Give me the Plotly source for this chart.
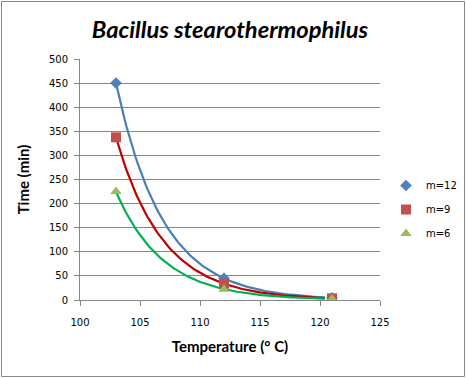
import numpy as np
import plotly.graph_objects as go

temps = [103, 112, 121]
series_names = ["m=12", "m=9", "m=6"]
m12 = [450, 45, 4.5]
m9 = [337.5, 33.75, 3.4]
m6 = [225, 22.5, 2.3]
x_ticks = [100, 105, 110, 115, 120, 125]
y_ticks = [0, 50, 100, 150, 200, 250, 300, 350, 400, 450, 500]

trend_end = 120.4
marker_colors = ["#4F81BD", "#C0504D", "#9BBB59"]
line_colors = ["#4A7EBB", "#C00000", "#00B050"]
symbols = ["diamond", "square", "triangle-up"]
sizes = [9, 10, 10]

W, H = 466, 378
L, R, T, B = 80, 86, 59, 78
pw, ph = W - L - R, H - T - B

fig = go.Figure()

# exponential trendlines fitted to the data (like Excel)
for vals, lc in zip([m12, m9, m6], line_colors):
    b, a = np.polyfit(temps, np.log(vals), 1)
    xs = np.linspace(temps[0], trend_end, 120)
    fig.add_trace(go.Scatter(x=xs, y=np.exp(a + b * xs), mode="lines",
                             line=dict(color=lc, width=2.2), showlegend=False,
                             hoverinfo="skip"))

for name, vals, mc, sym, sz in zip(series_names, [m12, m9, m6], marker_colors, symbols, sizes):
    fig.add_trace(go.Scatter(x=temps, y=vals, mode="markers", name=name,
                             legendgroup=name,
                             marker=dict(color=mc, symbol=sym, size=sz, line=dict(width=0))))

def px(p):
    return (p - L) / pw

def py(p):
    return (H - B - p) / ph

fig.add_shape(type="rect", xref="paper", yref="paper",
              x0=px(1.5), x1=px(464.5), y0=py(376.5), y1=py(1.5),
              line=dict(color="#868686", width=1), fillcolor="rgba(0,0,0,0)")

fig.update_layout(
    width=W, height=H,
    margin=dict(l=L, r=R, t=T, b=B, autoexpand=False),
    paper_bgcolor="white", plot_bgcolor="white",
    title=dict(text="<b><i>Bacillus stearothermophilus</i></b>",
               x=0.5, xref="paper", xanchor="center",
               y=1 - 30 / H, yanchor="middle",
               font=dict(family="Lato", size=23.7, color="black")),
    xaxis=dict(range=[100, 125], tickvals=x_ticks, showgrid=False,
               showline=True, linecolor="#868686", linewidth=1,
               ticks="outside", ticklen=5, tickcolor="#868686",
               ticklabelstandoff=8,
               tickfont=dict(family="DejaVu Sans", size=10, color="black"),
               title=dict(text="<b>Temperature (° C)</b>",
                          font=dict(family="Lato", size=15, color="black"),
                          standoff=14),
               automargin=False,
               zeroline=False, fixedrange=True),
    yaxis=dict(range=[0, 500], tickvals=y_ticks, showgrid=True,
               gridcolor="#868686", gridwidth=1,
               showline=True, linecolor="#868686", linewidth=1,
               ticks="outside", ticklen=5, tickcolor="#868686",
               ticklabelstandoff=4,
               tickfont=dict(family="DejaVu Sans", size=10, color="black"),
               title=dict(text="<b>Time (min)</b>",
                          font=dict(family="Lato", size=15, color="black"),
                          standoff=15),
               automargin=False,
               zeroline=False, fixedrange=True),
    legend=dict(xref="container", yref="container",
                x=386 / W, y=1 - 171 / H, xanchor="left", yanchor="top",
                font=dict(family="DejaVu Sans", size=10, color="black"),
                tracegroupgap=5, itemsizing="trace", itemwidth=30,
                bgcolor="rgba(0,0,0,0)"),
    showlegend=True,
)

fig.write_html("out.html", config={"displayModeBar": False},
               post_script="document.body.style.margin='0px';")
